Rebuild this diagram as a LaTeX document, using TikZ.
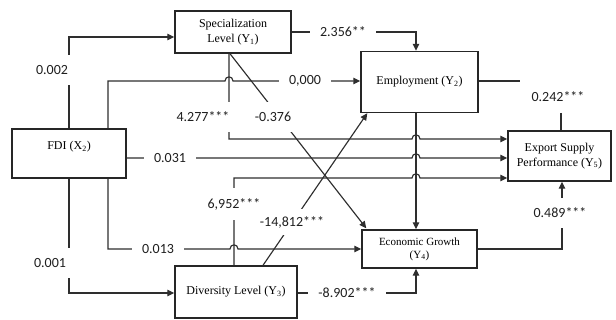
\documentclass[tikz,border=0pt]{standalone}
\usepackage{fontspec}
\setmainfont{Liberation Serif}
\newfontfamily\lblfont{Carlito}
\usetikzlibrary{arrows.meta}
\begin{document}
\begin{tikzpicture}[x=1pt,y=-1pt,
  box/.style={draw=black!85,line width=1.4pt,fill=white,inner sep=2pt,align=center,font=\fontsize{12}{14.5}\selectfont},
  conn/.style={draw=black!82,line width=1.15pt},
  arr/.style={conn,-{Triangle[length=7pt,width=6.5pt]}},
  lbl/.style={fill=white,inner xsep=10pt,inner ysep=10pt,font=\lblfont\fontsize{14}{16}\selectfont,text=black!88}]
\useasboundingbox (0,0) rectangle (616,320);
% boxes
\node[box,minimum width=116pt,minimum height=42pt] (spec) at (233,32) {Specialization\\[1pt]Level (Y\textsubscript{1})};
\node[box,minimum width=117pt,minimum height=61pt] (emp) at (419.5,82) {Employment (Y\textsubscript{2})};
\node[box,minimum width=114pt,minimum height=49pt] (fdi) at (69,153.5) {FDI (X\textsubscript{2})\\[1pt]\mbox{}};
\node[box,minimum width=103pt,minimum height=50pt] (exp) at (559.5,156) {Export Supply\\Performance (Y\textsubscript{5})};
\node[box,minimum width=115pt,minimum height=38pt,font=\fontsize{11}{13}\selectfont] (econ) at (419.5,249) {Economic Growth\\(Y\textsubscript{4})};
\node[box,minimum width=122pt,minimum height=52pt] (div) at (236,292) {Diversity Level (Y\textsubscript{3})};
% connectors
\draw[arr] (fdi.north) |- ([yshift=-5pt]spec.west);
\draw[arr] ([xshift=39pt]fdi.north) -- (108,81) -- (225,81) .. controls (225,75.5) and (233,75.5) .. (233,81) -- ([yshift=1pt]emp.west);
\draw[arr] ([xshift=-3pt]spec.south) -- ([xshift=5pt,yshift=1pt]econ.north west);
\draw[arr] ([xshift=-4pt]spec.south) -- (229,139) -- (412,139) .. controls (412,133.5) and (420,133.5) .. (420,139) -- (exp.west |- 0,139);
\draw[arr] ([yshift=-4.5pt]fdi.east) -- (412,158) .. controls (412,152.5) and (420,152.5) .. (420,158) -- (exp.west |- 0,158);
\draw[arr] ([xshift=-2pt]div.north) -- (234,178) -- (412,178) .. controls (412,172.5) and (420,172.5) .. (420,178) -- (exp.west |- 0,178);
\draw[arr] ([xshift=39pt]fdi.south) -- (108,249) -- (230,249) .. controls (230,243.5) and (238,243.5) .. (238,249) -- (econ.west);
\draw[arr] (fdi.south) |- ([yshift=-1pt]div.west);
\draw[arr] ([xshift=27pt]div.north) -- ([xshift=7pt]emp.south west);
\draw[arr] (spec.east) -| ([xshift=-3.5pt]emp.north);
\coordinate (c11a) at (520,81);
\coordinate (c11b) at (561,113);
\draw[conn] ([yshift=1pt]emp.east) -- (c11a);
\draw[conn] (c11b) -- (exp.north -| c11b);
\draw[arr] ([yshift=-1pt]div.east) -| ([xshift=-3.5pt]econ.south);
\draw[arr] ([xshift=-3.5pt]emp.south) -- ([xshift=-3.5pt]econ.north);
\draw[arr] (econ.east) -| ([xshift=2.5pt]exp.south);
% labels
\node[lbl] (l1) at (52,70) {0.002};
\node[lbl] (l2) at (305,81) {0,000};
\node[lbl] (l3) at (273,117) {-0.376};
\node[lbl] (l4) at (203,117) {4.277***};
\node[lbl] (l5) at (170,158) {0.031};
\node[lbl] (l6) at (234,204) {6,952***};
\node[lbl] (l7) at (158,249) {0.013};
\node[lbl] (l8) at (50,263) {0.001};
\node[lbl,inner ysep=7pt] (l9) at (292,222) {-14,812***};
\node[lbl] (l10) at (343,32) {2.356**};
\node[lbl,fill=none] (l11) at (558,97) {0.242***};
\node[lbl] (l12) at (347,293) {-8.902***};
\node[lbl] (l13) at (560,213) {0.489***};
\end{tikzpicture}
\end{document}
